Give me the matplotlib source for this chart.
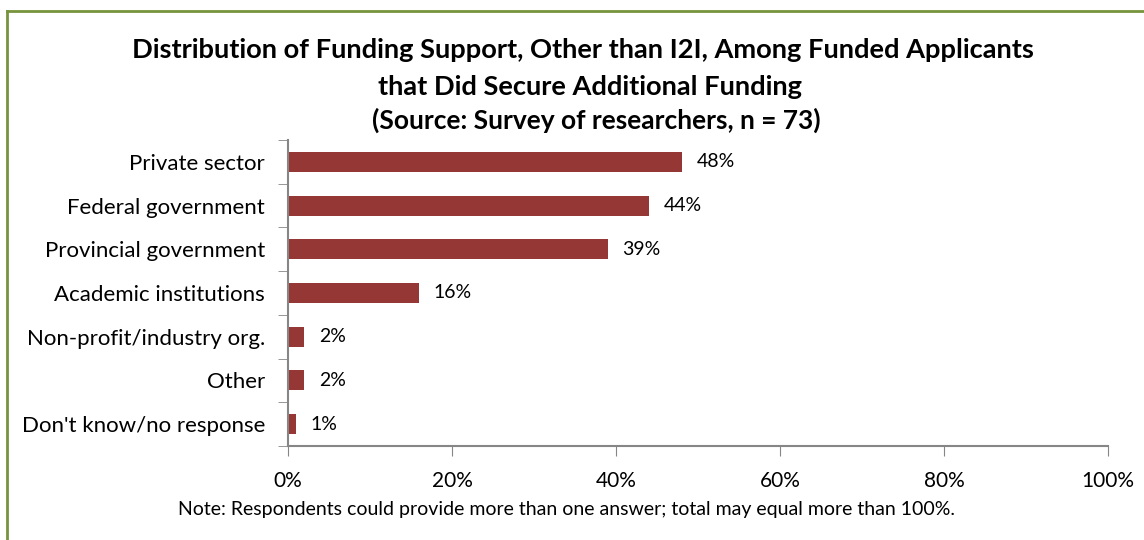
import matplotlib.pyplot as plt
from matplotlib.lines import Line2D

categories = ["Private sector", "Federal government", "Provincial government",
              "Academic institutions", "Non-profit/industry org.", "Other",
              "Don't know/no response"]
values = [48, 44, 39, 16, 2, 2, 1]
xticks = [0, 20, 40, 60, 80, 100]

plt.rcParams['font.family'] = ['Lato', 'DejaVu Sans']

fig = plt.figure(figsize=(11.44, 5.4), dpi=100)
ax = fig.add_axes([288/1144, 1 - 446/540, 820/1144, 306/540])

bar_color = '#953735'
spine_color = '#868686'
ypos = list(range(len(categories)))
ax.barh(ypos, values, height=0.46, color=bar_color)
for y, v in zip(ypos, values):
    ax.text(v + 1.8, y, f"{v}%", va='center', ha='left', fontsize=14, color='#000000')

ax.set_xlim(0, 100)
ax.set_ylim(len(categories) - 0.5, -0.5)
ax.set_xticks(xticks)
ax.set_xticklabels([f"{t}%" for t in xticks], fontsize=15)
ax.set_yticks(ypos)
ax.set_yticklabels(categories, fontsize=16)
ax.tick_params(axis='y', length=0, pad=16.5)
ax.tick_params(axis='x', length=7, color=spine_color, pad=11, direction='out')
# boundary tick marks on the category axis
ax.set_yticks([i - 0.5 for i in range(len(categories) + 1)], minor=True)
ax.tick_params(axis='y', which='minor', length=7, color=spine_color)
for s in ['top', 'right']:
    ax.spines[s].set_visible(False)
for s in ['left', 'bottom']:
    ax.spines[s].set_color(spine_color)
    ax.spines[s].set_linewidth(1.5)

fig.text(583/1144, 1 - 50/540, "Distribution of Funding Support, Other than I2I, Among Funded Applicants",
         ha='center', va='center', fontsize=19.6, fontweight='bold')
fig.text(590/1144, 1 - 87/540, "that Did Secure Additional Funding",
         ha='center', va='center', fontsize=19.6, fontweight='bold')
fig.text(596/1144, 1 - 120/540, "(Source: Survey of researchers, n = 73)",
         ha='center', va='center', fontsize=19, fontweight='bold')
fig.text(566/1144, 1 - 510/540,
         "Note: Respondents could provide more than one answer; total may equal more than 100%.",
         ha='center', va='center', fontsize=14)

# outer green border (left and top)
border = '#77933c'
fig.add_artist(Line2D([7/1144, 7/1144], [0, 1 - 11/540], color=border, lw=2, transform=fig.transFigure))
fig.add_artist(Line2D([7/1144, 1], [1 - 11/540, 1 - 11/540], color=border, lw=2, transform=fig.transFigure))

fig.savefig("out.png", dpi=100)
